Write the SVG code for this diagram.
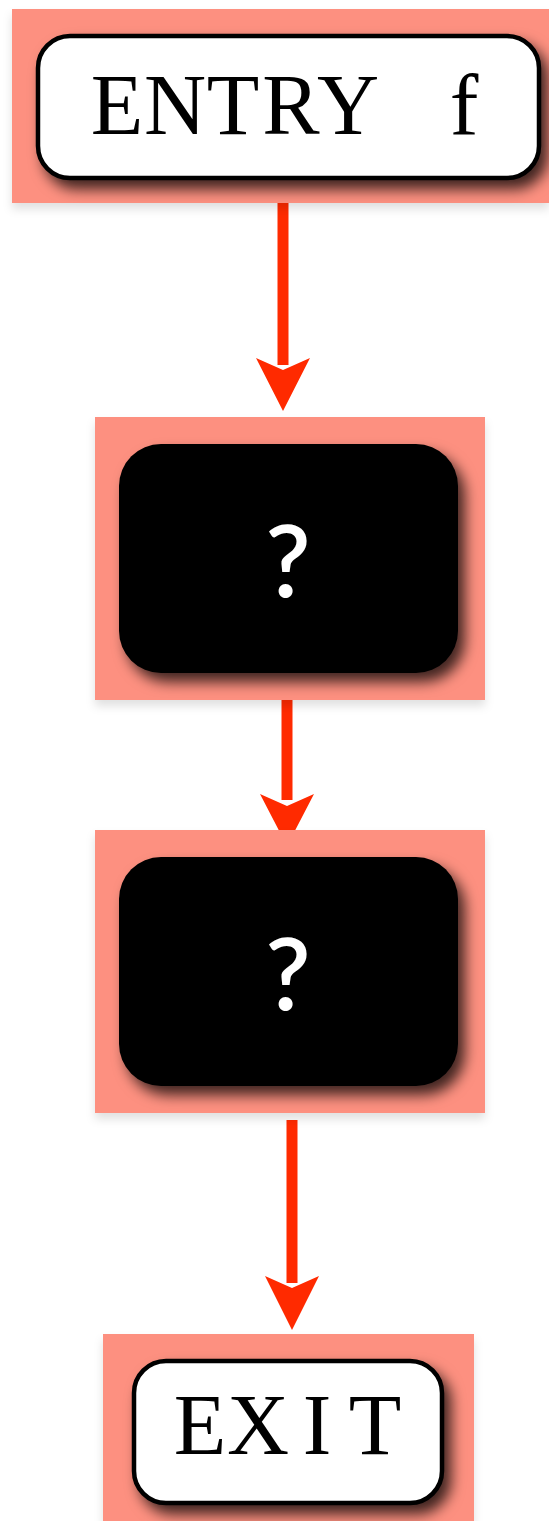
<svg xmlns="http://www.w3.org/2000/svg" width="549" height="1521" viewBox="0 0 549 1521">
<style>
.hl{fill:#fd9080;filter:url(#hs)}
.term{fill:#fff;stroke:#000;stroke-width:4.5;filter:url(#ds)}
.blk{fill:#000;filter:url(#ds)}
.mono{font-family:"Liberation Serif","Times New Roman",serif;font-size:86px;fill:#000;font-weight:normal;text-anchor:middle}
.q{font-family:"Lato","Open Sans",sans-serif;font-weight:600;font-size:100px;fill:#fff;text-anchor:middle}
.edge{stroke:#ff2a00;stroke-width:11;fill:none}
.head{fill:#ff2a00}
</style>
<defs>
<filter id="ds" x="-20%" y="-20%" width="150%" height="160%">
<feDropShadow dx="7" dy="9" stdDeviation="7" flood-color="#000" flood-opacity="0.75"/>
</filter>
<filter id="hs" x="-10%" y="-10%" width="130%" height="130%">
<feDropShadow dx="0" dy="6" stdDeviation="5" flood-color="#000" flood-opacity="0.12"/>
</filter>
</defs>
<g id="connectors">
<line class="edge" x1="283" y1="198" x2="283" y2="365"/>
<path class="head" d="M256,358 L283,411 L310,358 L283,370 Z"/>
<line class="edge" x1="287" y1="688" x2="287" y2="800"/>
<path class="head" d="M260,794 L287,846 L314,794 L287,806 Z"/>
<line class="edge" x1="292" y1="1120" x2="292" y2="1283"/>
<path class="head" d="M265,1276 L292,1330 L319,1276 L292,1288 Z"/>
</g>
<g id="entry">
<rect class="hl" x="12" y="9" width="537" height="194"/>
<rect class="term" x="38" y="36" width="501" height="142" rx="32"/>
<text class="mono" x="117 175 233 291 348 406 464" y="134">ENTRY f</text>
</g>
<g id="node1">
<rect class="hl" x="95" y="417" width="390" height="283"/>
<rect class="blk" x="119" y="444" width="339" height="229" rx="42"/>
<text class="q" x="288" y="597">?</text>
</g>
<g id="node2">
<rect class="hl" x="95" y="830" width="390" height="283"/>
<rect class="blk" x="119" y="857" width="339" height="229" rx="42"/>
<text class="q" x="288" y="1010">?</text>
</g>
<g id="exit">
<rect class="hl" x="103" y="1334" width="371" height="187"/>
<rect class="term" x="134" y="1361" width="308" height="142" rx="32"/>
<text class="mono" x="200 258 317 375" y="1454">EXIT</text>
</g>
</svg>
